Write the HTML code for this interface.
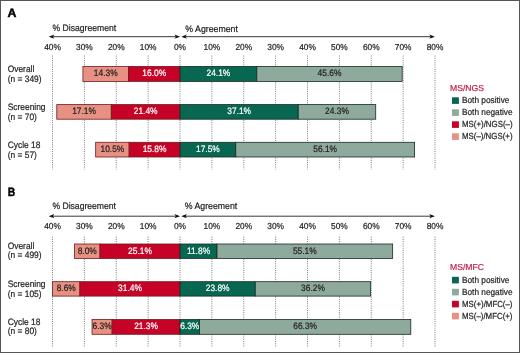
<!DOCTYPE html>
<html><head><meta charset="utf-8"><title>Figure</title>
<style>
html,body{margin:0;padding:0;background:#fff;}
body{width:520px;height:353px;overflow:hidden;font-family:"Liberation Sans",sans-serif;}
svg{display:block;font-family:"Liberation Sans",sans-serif;}
</style></head>
<body>
<svg width="520" height="353" viewBox="0 0 520 353">
<rect x="0" y="0" width="520" height="353" fill="#fff"/>
<line x1="51.00" y1="36.7" x2="178.00" y2="36.7" stroke="#222" stroke-width="0.9"/>
<line x1="183.00" y1="36.7" x2="433.00" y2="36.7" stroke="#222" stroke-width="0.9"/>
<path d="M48.70 36.7 L54.30 34.6 L52.90 36.7 L54.30 38.800000000000004 Z" fill="#111"/>
<path d="M180.10 36.7 L174.50 34.6 L175.90 36.7 L174.50 38.800000000000004 Z" fill="#111"/>
<path d="M181.30 36.7 L186.90 34.6 L185.50 36.7 L186.90 38.800000000000004 Z" fill="#111"/>
<path d="M434.90 36.7 L429.30 34.6 L430.70 36.7 L429.30 38.800000000000004 Z" fill="#111"/>
<line x1="52.50" y1="55.6" x2="52.50" y2="169.4" stroke="#505050" stroke-width="0.8" stroke-dasharray="0.95 1.27"/>
<line x1="84.38" y1="55.6" x2="84.38" y2="169.4" stroke="#505050" stroke-width="0.8" stroke-dasharray="0.95 1.27"/>
<line x1="116.25" y1="55.6" x2="116.25" y2="169.4" stroke="#505050" stroke-width="0.8" stroke-dasharray="0.95 1.27"/>
<line x1="148.12" y1="55.6" x2="148.12" y2="169.4" stroke="#505050" stroke-width="0.8" stroke-dasharray="0.95 1.27"/>
<line x1="180.00" y1="55.6" x2="180.00" y2="169.4" stroke="#505050" stroke-width="0.8" stroke-dasharray="0.95 1.27"/>
<line x1="211.88" y1="55.6" x2="211.88" y2="169.4" stroke="#505050" stroke-width="0.8" stroke-dasharray="0.95 1.27"/>
<line x1="243.75" y1="55.6" x2="243.75" y2="169.4" stroke="#505050" stroke-width="0.8" stroke-dasharray="0.95 1.27"/>
<line x1="275.62" y1="55.6" x2="275.62" y2="169.4" stroke="#505050" stroke-width="0.8" stroke-dasharray="0.95 1.27"/>
<line x1="307.50" y1="55.6" x2="307.50" y2="169.4" stroke="#505050" stroke-width="0.8" stroke-dasharray="0.95 1.27"/>
<line x1="339.38" y1="55.6" x2="339.38" y2="169.4" stroke="#505050" stroke-width="0.8" stroke-dasharray="0.95 1.27"/>
<line x1="371.25" y1="55.6" x2="371.25" y2="169.4" stroke="#505050" stroke-width="0.8" stroke-dasharray="0.95 1.27"/>
<line x1="403.12" y1="55.6" x2="403.12" y2="169.4" stroke="#505050" stroke-width="0.8" stroke-dasharray="0.95 1.27"/>
<line x1="435.00" y1="55.6" x2="435.00" y2="169.4" stroke="#505050" stroke-width="0.8" stroke-dasharray="0.95 1.27"/>
<rect x="82.92" y="66.40" width="45.58" height="15.00" fill="#E69182" stroke="#6E1A1E" stroke-width="0.8"/>
<rect x="128.50" y="66.40" width="51.50" height="15.00" fill="#C60327" stroke="#6E1A1E" stroke-width="0.8"/>
<rect x="180.00" y="66.40" width="76.82" height="15.00" fill="#086750" stroke="#182A22" stroke-width="0.8"/>
<rect x="256.82" y="66.40" width="145.35" height="15.00" fill="#8EAA9D" stroke="#182A22" stroke-width="0.8"/>
<rect x="56.78" y="104.60" width="54.51" height="14.60" fill="#E69182" stroke="#6E1A1E" stroke-width="0.8"/>
<rect x="111.29" y="104.60" width="68.71" height="14.60" fill="#C60327" stroke="#6E1A1E" stroke-width="0.8"/>
<rect x="180.00" y="104.60" width="118.26" height="14.60" fill="#086750" stroke="#182A22" stroke-width="0.8"/>
<rect x="298.26" y="104.60" width="77.46" height="14.60" fill="#8EAA9D" stroke="#182A22" stroke-width="0.8"/>
<rect x="95.67" y="142.30" width="33.47" height="14.70" fill="#E69182" stroke="#6E1A1E" stroke-width="0.8"/>
<rect x="129.14" y="142.30" width="50.86" height="14.70" fill="#C60327" stroke="#6E1A1E" stroke-width="0.8"/>
<rect x="180.00" y="142.30" width="55.78" height="14.70" fill="#086750" stroke="#182A22" stroke-width="0.8"/>
<rect x="235.78" y="142.30" width="178.82" height="14.70" fill="#8EAA9D" stroke="#182A22" stroke-width="0.8"/>
<rect x="452.0" y="97.30" width="6.9" height="6.6" fill="#086750"/>
<rect x="452.0" y="109.30" width="6.9" height="6.6" fill="#8EAA9D"/>
<rect x="452.0" y="121.30" width="6.9" height="6.6" fill="#C60327"/>
<rect x="452.0" y="133.30" width="6.9" height="6.6" fill="#E69182"/>
<line x1="51.00" y1="216.2" x2="178.00" y2="216.2" stroke="#222" stroke-width="0.9"/>
<line x1="183.00" y1="216.2" x2="433.00" y2="216.2" stroke="#222" stroke-width="0.9"/>
<path d="M48.70 216.2 L54.30 214.1 L52.90 216.2 L54.30 218.29999999999998 Z" fill="#111"/>
<path d="M180.10 216.2 L174.50 214.1 L175.90 216.2 L174.50 218.29999999999998 Z" fill="#111"/>
<path d="M181.30 216.2 L186.90 214.1 L185.50 216.2 L186.90 218.29999999999998 Z" fill="#111"/>
<path d="M434.90 216.2 L429.30 214.1 L430.70 216.2 L429.30 218.29999999999998 Z" fill="#111"/>
<line x1="52.50" y1="236.7" x2="52.50" y2="346.5" stroke="#505050" stroke-width="0.8" stroke-dasharray="0.95 1.27"/>
<line x1="84.38" y1="236.7" x2="84.38" y2="346.5" stroke="#505050" stroke-width="0.8" stroke-dasharray="0.95 1.27"/>
<line x1="116.25" y1="236.7" x2="116.25" y2="346.5" stroke="#505050" stroke-width="0.8" stroke-dasharray="0.95 1.27"/>
<line x1="148.12" y1="236.7" x2="148.12" y2="346.5" stroke="#505050" stroke-width="0.8" stroke-dasharray="0.95 1.27"/>
<line x1="180.00" y1="236.7" x2="180.00" y2="346.5" stroke="#505050" stroke-width="0.8" stroke-dasharray="0.95 1.27"/>
<line x1="211.88" y1="236.7" x2="211.88" y2="346.5" stroke="#505050" stroke-width="0.8" stroke-dasharray="0.95 1.27"/>
<line x1="243.75" y1="236.7" x2="243.75" y2="346.5" stroke="#505050" stroke-width="0.8" stroke-dasharray="0.95 1.27"/>
<line x1="275.62" y1="236.7" x2="275.62" y2="346.5" stroke="#505050" stroke-width="0.8" stroke-dasharray="0.95 1.27"/>
<line x1="307.50" y1="236.7" x2="307.50" y2="346.5" stroke="#505050" stroke-width="0.8" stroke-dasharray="0.95 1.27"/>
<line x1="339.38" y1="236.7" x2="339.38" y2="346.5" stroke="#505050" stroke-width="0.8" stroke-dasharray="0.95 1.27"/>
<line x1="371.25" y1="236.7" x2="371.25" y2="346.5" stroke="#505050" stroke-width="0.8" stroke-dasharray="0.95 1.27"/>
<line x1="403.12" y1="236.7" x2="403.12" y2="346.5" stroke="#505050" stroke-width="0.8" stroke-dasharray="0.95 1.27"/>
<line x1="435.00" y1="236.7" x2="435.00" y2="346.5" stroke="#505050" stroke-width="0.8" stroke-dasharray="0.95 1.27"/>
<rect x="74.49" y="244.00" width="25.50" height="14.40" fill="#E69182" stroke="#6E1A1E" stroke-width="0.8"/>
<rect x="99.99" y="244.00" width="80.01" height="14.40" fill="#C60327" stroke="#6E1A1E" stroke-width="0.8"/>
<rect x="180.00" y="244.00" width="37.01" height="14.40" fill="#086750" stroke="#182A22" stroke-width="0.8"/>
<rect x="217.01" y="244.00" width="175.63" height="14.40" fill="#8EAA9D" stroke="#182A22" stroke-width="0.8"/>
<rect x="52.50" y="281.70" width="27.41" height="14.40" fill="#E69182" stroke="#6E1A1E" stroke-width="0.8"/>
<rect x="79.91" y="281.70" width="100.09" height="14.40" fill="#C60327" stroke="#6E1A1E" stroke-width="0.8"/>
<rect x="180.00" y="281.70" width="75.26" height="14.40" fill="#086750" stroke="#182A22" stroke-width="0.8"/>
<rect x="255.26" y="281.70" width="115.39" height="14.40" fill="#8EAA9D" stroke="#182A22" stroke-width="0.8"/>
<rect x="92.02" y="319.50" width="20.08" height="14.80" fill="#E69182" stroke="#6E1A1E" stroke-width="0.8"/>
<rect x="112.11" y="319.50" width="67.89" height="14.80" fill="#C60327" stroke="#6E1A1E" stroke-width="0.8"/>
<rect x="180.00" y="319.50" width="19.48" height="14.80" fill="#086750" stroke="#182A22" stroke-width="0.8"/>
<rect x="199.48" y="319.50" width="211.33" height="14.80" fill="#8EAA9D" stroke="#182A22" stroke-width="0.8"/>
<rect x="452.0" y="276.80" width="6.9" height="6.6" fill="#086750"/>
<rect x="452.0" y="288.80" width="6.9" height="6.6" fill="#8EAA9D"/>
<rect x="452.0" y="300.80" width="6.9" height="6.6" fill="#C60327"/>
<rect x="452.0" y="312.80" width="6.9" height="6.6" fill="#E69182"/>
<defs><filter id="ga" x="0" y="0" width="1" height="1" filterUnits="objectBoundingBox"><feOffset dx="0" dy="0"/></filter></defs>
<g filter="url(#ga)" style="text-rendering:geometricPrecision">
<text x="7.60" y="17.30" font-size="12.2" fill="#000" stroke="#000" stroke-width="0.45" font-weight="bold" textLength="8.90" lengthAdjust="spacingAndGlyphs">A</text>
<text x="52.50" y="31.30" font-size="9.3" fill="#231F20" stroke="#231F20" stroke-width="0.22" textLength="63.60" lengthAdjust="spacingAndGlyphs">% Disagreement</text>
<text x="185.30" y="31.50" font-size="9.3" fill="#231F20" stroke="#231F20" stroke-width="0.22" textLength="52.60" lengthAdjust="spacingAndGlyphs">% Agreement</text>
<text x="44.14" y="50.30" font-size="8.7" fill="#231F20" stroke="#231F20" stroke-width="0.22" textLength="16.71" lengthAdjust="spacingAndGlyphs">40%</text>
<text x="76.02" y="50.30" font-size="8.7" fill="#231F20" stroke="#231F20" stroke-width="0.22" textLength="16.71" lengthAdjust="spacingAndGlyphs">30%</text>
<text x="107.89" y="50.30" font-size="8.7" fill="#231F20" stroke="#231F20" stroke-width="0.22" textLength="16.71" lengthAdjust="spacingAndGlyphs">20%</text>
<text x="139.77" y="50.30" font-size="8.7" fill="#231F20" stroke="#231F20" stroke-width="0.22" textLength="16.71" lengthAdjust="spacingAndGlyphs">10%</text>
<text x="173.97" y="50.30" font-size="8.7" fill="#231F20" stroke="#231F20" stroke-width="0.22" textLength="12.07" lengthAdjust="spacingAndGlyphs">0%</text>
<text x="203.52" y="50.30" font-size="8.7" fill="#231F20" stroke="#231F20" stroke-width="0.22" textLength="16.71" lengthAdjust="spacingAndGlyphs">10%</text>
<text x="235.39" y="50.30" font-size="8.7" fill="#231F20" stroke="#231F20" stroke-width="0.22" textLength="16.71" lengthAdjust="spacingAndGlyphs">20%</text>
<text x="267.27" y="50.30" font-size="8.7" fill="#231F20" stroke="#231F20" stroke-width="0.22" textLength="16.71" lengthAdjust="spacingAndGlyphs">30%</text>
<text x="299.14" y="50.30" font-size="8.7" fill="#231F20" stroke="#231F20" stroke-width="0.22" textLength="16.71" lengthAdjust="spacingAndGlyphs">40%</text>
<text x="331.02" y="50.30" font-size="8.7" fill="#231F20" stroke="#231F20" stroke-width="0.22" textLength="16.71" lengthAdjust="spacingAndGlyphs">50%</text>
<text x="362.89" y="50.30" font-size="8.7" fill="#231F20" stroke="#231F20" stroke-width="0.22" textLength="16.71" lengthAdjust="spacingAndGlyphs">60%</text>
<text x="394.77" y="50.30" font-size="8.7" fill="#231F20" stroke="#231F20" stroke-width="0.22" textLength="16.71" lengthAdjust="spacingAndGlyphs">70%</text>
<text x="426.64" y="50.30" font-size="8.7" fill="#231F20" stroke="#231F20" stroke-width="0.22" textLength="16.71" lengthAdjust="spacingAndGlyphs">80%</text>
<text x="7.70" y="71.90" font-size="9.3" fill="#231F20" stroke="#231F20" stroke-width="0.22" textLength="26.61" lengthAdjust="spacingAndGlyphs">Overall</text>
<text x="7.70" y="81.70" font-size="9.3" fill="#231F20" stroke="#231F20" stroke-width="0.22" textLength="33.86" lengthAdjust="spacingAndGlyphs">(n = 349)</text>
<text x="93.80" y="76.20" font-size="9.3" fill="#231F20" stroke="#231F20" stroke-width="0.22" textLength="23.82" lengthAdjust="spacingAndGlyphs">14.3%</text>
<text x="142.34" y="76.20" font-size="9.3" fill="#fff" stroke="#fff" stroke-width="0.22" textLength="23.82" lengthAdjust="spacingAndGlyphs">16.0%</text>
<text x="206.50" y="76.20" font-size="9.3" fill="#fff" stroke="#fff" stroke-width="0.22" textLength="23.82" lengthAdjust="spacingAndGlyphs">24.1%</text>
<text x="317.58" y="76.20" font-size="9.3" fill="#231F20" stroke="#231F20" stroke-width="0.22" textLength="23.82" lengthAdjust="spacingAndGlyphs">45.6%</text>
<text x="7.70" y="109.70" font-size="9.3" fill="#231F20" stroke="#231F20" stroke-width="0.22" textLength="37.83" lengthAdjust="spacingAndGlyphs">Screening</text>
<text x="7.70" y="119.50" font-size="9.3" fill="#231F20" stroke="#231F20" stroke-width="0.22" textLength="29.18" lengthAdjust="spacingAndGlyphs">(n = 70)</text>
<text x="72.13" y="114.20" font-size="9.3" fill="#231F20" stroke="#231F20" stroke-width="0.22" textLength="23.82" lengthAdjust="spacingAndGlyphs">17.1%</text>
<text x="133.73" y="114.20" font-size="9.3" fill="#fff" stroke="#fff" stroke-width="0.22" textLength="23.82" lengthAdjust="spacingAndGlyphs">21.4%</text>
<text x="227.22" y="114.20" font-size="9.3" fill="#fff" stroke="#fff" stroke-width="0.22" textLength="23.82" lengthAdjust="spacingAndGlyphs">37.1%</text>
<text x="325.08" y="114.20" font-size="9.3" fill="#231F20" stroke="#231F20" stroke-width="0.22" textLength="23.82" lengthAdjust="spacingAndGlyphs">24.3%</text>
<text x="7.70" y="147.80" font-size="9.3" fill="#231F20" stroke="#231F20" stroke-width="0.22" textLength="32.68" lengthAdjust="spacingAndGlyphs">Cycle 18</text>
<text x="7.70" y="157.60" font-size="9.3" fill="#231F20" stroke="#231F20" stroke-width="0.22" textLength="29.18" lengthAdjust="spacingAndGlyphs">(n = 57)</text>
<text x="100.49" y="151.95" font-size="9.3" fill="#231F20" stroke="#231F20" stroke-width="0.22" textLength="23.82" lengthAdjust="spacingAndGlyphs">10.5%</text>
<text x="142.66" y="151.95" font-size="9.3" fill="#fff" stroke="#fff" stroke-width="0.22" textLength="23.82" lengthAdjust="spacingAndGlyphs">15.8%</text>
<text x="195.98" y="151.95" font-size="9.3" fill="#fff" stroke="#fff" stroke-width="0.22" textLength="23.82" lengthAdjust="spacingAndGlyphs">17.5%</text>
<text x="313.28" y="151.95" font-size="9.3" fill="#231F20" stroke="#231F20" stroke-width="0.22" textLength="23.82" lengthAdjust="spacingAndGlyphs">56.1%</text>
<text x="450.00" y="91.00" font-size="8.6" fill="#C41E46" stroke="#C41E46" stroke-width="0.2" textLength="34.00" lengthAdjust="spacingAndGlyphs">MS/NGS</text>
<text x="462.00" y="103.30" font-size="8.8" fill="#231F20" stroke="#231F20" stroke-width="0.22" textLength="47.40" lengthAdjust="spacingAndGlyphs">Both positive</text>
<text x="462.00" y="115.30" font-size="8.8" fill="#231F20" stroke="#231F20" stroke-width="0.22" textLength="50.60" lengthAdjust="spacingAndGlyphs">Both negative</text>
<text x="462.00" y="127.30" font-size="8.8" fill="#231F20" stroke="#231F20" stroke-width="0.22" textLength="50.50" lengthAdjust="spacingAndGlyphs">MS(+)/NGS(–)</text>
<text x="462.00" y="139.30" font-size="8.8" fill="#231F20" stroke="#231F20" stroke-width="0.22" textLength="50.50" lengthAdjust="spacingAndGlyphs">MS(–)/NGS(+)</text>
<text x="7.80" y="195.50" font-size="12.2" fill="#000" stroke="#000" stroke-width="0.45" font-weight="bold" textLength="7.50" lengthAdjust="spacingAndGlyphs">B</text>
<text x="52.40" y="209.20" font-size="9.3" fill="#231F20" stroke="#231F20" stroke-width="0.22" textLength="63.60" lengthAdjust="spacingAndGlyphs">% Disagreement</text>
<text x="184.70" y="209.40" font-size="9.3" fill="#231F20" stroke="#231F20" stroke-width="0.22" textLength="52.60" lengthAdjust="spacingAndGlyphs">% Agreement</text>
<text x="44.14" y="229.20" font-size="8.7" fill="#231F20" stroke="#231F20" stroke-width="0.22" textLength="16.71" lengthAdjust="spacingAndGlyphs">40%</text>
<text x="76.02" y="229.20" font-size="8.7" fill="#231F20" stroke="#231F20" stroke-width="0.22" textLength="16.71" lengthAdjust="spacingAndGlyphs">30%</text>
<text x="107.89" y="229.20" font-size="8.7" fill="#231F20" stroke="#231F20" stroke-width="0.22" textLength="16.71" lengthAdjust="spacingAndGlyphs">20%</text>
<text x="139.77" y="229.20" font-size="8.7" fill="#231F20" stroke="#231F20" stroke-width="0.22" textLength="16.71" lengthAdjust="spacingAndGlyphs">10%</text>
<text x="173.97" y="229.20" font-size="8.7" fill="#231F20" stroke="#231F20" stroke-width="0.22" textLength="12.07" lengthAdjust="spacingAndGlyphs">0%</text>
<text x="203.52" y="229.20" font-size="8.7" fill="#231F20" stroke="#231F20" stroke-width="0.22" textLength="16.71" lengthAdjust="spacingAndGlyphs">10%</text>
<text x="235.39" y="229.20" font-size="8.7" fill="#231F20" stroke="#231F20" stroke-width="0.22" textLength="16.71" lengthAdjust="spacingAndGlyphs">20%</text>
<text x="267.27" y="229.20" font-size="8.7" fill="#231F20" stroke="#231F20" stroke-width="0.22" textLength="16.71" lengthAdjust="spacingAndGlyphs">30%</text>
<text x="299.14" y="229.20" font-size="8.7" fill="#231F20" stroke="#231F20" stroke-width="0.22" textLength="16.71" lengthAdjust="spacingAndGlyphs">40%</text>
<text x="331.02" y="229.20" font-size="8.7" fill="#231F20" stroke="#231F20" stroke-width="0.22" textLength="16.71" lengthAdjust="spacingAndGlyphs">50%</text>
<text x="362.89" y="229.20" font-size="8.7" fill="#231F20" stroke="#231F20" stroke-width="0.22" textLength="16.71" lengthAdjust="spacingAndGlyphs">60%</text>
<text x="394.77" y="229.20" font-size="8.7" fill="#231F20" stroke="#231F20" stroke-width="0.22" textLength="16.71" lengthAdjust="spacingAndGlyphs">70%</text>
<text x="426.64" y="229.20" font-size="8.7" fill="#231F20" stroke="#231F20" stroke-width="0.22" textLength="16.71" lengthAdjust="spacingAndGlyphs">80%</text>
<text x="7.70" y="248.60" font-size="9.3" fill="#231F20" stroke="#231F20" stroke-width="0.22" textLength="26.61" lengthAdjust="spacingAndGlyphs">Overall</text>
<text x="7.70" y="258.40" font-size="9.3" fill="#231F20" stroke="#231F20" stroke-width="0.22" textLength="33.86" lengthAdjust="spacingAndGlyphs">(n = 499)</text>
<text x="77.67" y="253.50" font-size="9.3" fill="#231F20" stroke="#231F20" stroke-width="0.22" textLength="19.15" lengthAdjust="spacingAndGlyphs">8.0%</text>
<text x="128.09" y="253.50" font-size="9.3" fill="#fff" stroke="#fff" stroke-width="0.22" textLength="23.82" lengthAdjust="spacingAndGlyphs">25.1%</text>
<text x="186.91" y="253.50" font-size="9.3" fill="#fff" stroke="#fff" stroke-width="0.22" textLength="23.19" lengthAdjust="spacingAndGlyphs">11.8%</text>
<text x="292.92" y="253.50" font-size="9.3" fill="#231F20" stroke="#231F20" stroke-width="0.22" textLength="23.82" lengthAdjust="spacingAndGlyphs">55.1%</text>
<text x="7.70" y="286.70" font-size="9.3" fill="#231F20" stroke="#231F20" stroke-width="0.22" textLength="37.83" lengthAdjust="spacingAndGlyphs">Screening</text>
<text x="7.70" y="296.50" font-size="9.3" fill="#231F20" stroke="#231F20" stroke-width="0.22" textLength="33.86" lengthAdjust="spacingAndGlyphs">(n = 105)</text>
<text x="56.63" y="291.20" font-size="9.3" fill="#231F20" stroke="#231F20" stroke-width="0.22" textLength="19.15" lengthAdjust="spacingAndGlyphs">8.6%</text>
<text x="118.05" y="291.20" font-size="9.3" fill="#fff" stroke="#fff" stroke-width="0.22" textLength="23.82" lengthAdjust="spacingAndGlyphs">31.4%</text>
<text x="205.72" y="291.20" font-size="9.3" fill="#fff" stroke="#fff" stroke-width="0.22" textLength="23.82" lengthAdjust="spacingAndGlyphs">23.8%</text>
<text x="301.05" y="291.20" font-size="9.3" fill="#231F20" stroke="#231F20" stroke-width="0.22" textLength="23.82" lengthAdjust="spacingAndGlyphs">36.2%</text>
<text x="7.70" y="324.50" font-size="9.3" fill="#231F20" stroke="#231F20" stroke-width="0.22" textLength="32.68" lengthAdjust="spacingAndGlyphs">Cycle 18</text>
<text x="7.70" y="334.30" font-size="9.3" fill="#231F20" stroke="#231F20" stroke-width="0.22" textLength="29.18" lengthAdjust="spacingAndGlyphs">(n = 80)</text>
<text x="92.49" y="329.20" font-size="9.3" fill="#231F20" stroke="#231F20" stroke-width="0.22" textLength="19.15" lengthAdjust="spacingAndGlyphs">6.3%</text>
<text x="134.14" y="329.20" font-size="9.3" fill="#fff" stroke="#fff" stroke-width="0.22" textLength="23.82" lengthAdjust="spacingAndGlyphs">21.3%</text>
<text x="180.17" y="329.20" font-size="9.3" fill="#fff" stroke="#fff" stroke-width="0.22" textLength="19.15" lengthAdjust="spacingAndGlyphs">6.3%</text>
<text x="293.24" y="329.20" font-size="9.3" fill="#231F20" stroke="#231F20" stroke-width="0.22" textLength="23.82" lengthAdjust="spacingAndGlyphs">66.3%</text>
<text x="450.00" y="270.10" font-size="8.6" fill="#C41E46" stroke="#C41E46" stroke-width="0.2" textLength="34.00" lengthAdjust="spacingAndGlyphs">MS/MFC</text>
<text x="462.00" y="282.80" font-size="8.8" fill="#231F20" stroke="#231F20" stroke-width="0.22" textLength="47.40" lengthAdjust="spacingAndGlyphs">Both positive</text>
<text x="462.00" y="294.80" font-size="8.8" fill="#231F20" stroke="#231F20" stroke-width="0.22" textLength="50.60" lengthAdjust="spacingAndGlyphs">Both negative</text>
<text x="462.00" y="306.80" font-size="8.8" fill="#231F20" stroke="#231F20" stroke-width="0.22" textLength="50.50" lengthAdjust="spacingAndGlyphs">MS(+)/MFC(–)</text>
<text x="462.00" y="318.80" font-size="8.8" fill="#231F20" stroke="#231F20" stroke-width="0.22" textLength="50.50" lengthAdjust="spacingAndGlyphs">MS(–)/MFC(+)</text>
</g>
<rect x="0.5" y="0.5" width="519" height="352" fill="none" stroke="#555" stroke-width="1"/>
</svg>
</body></html>
